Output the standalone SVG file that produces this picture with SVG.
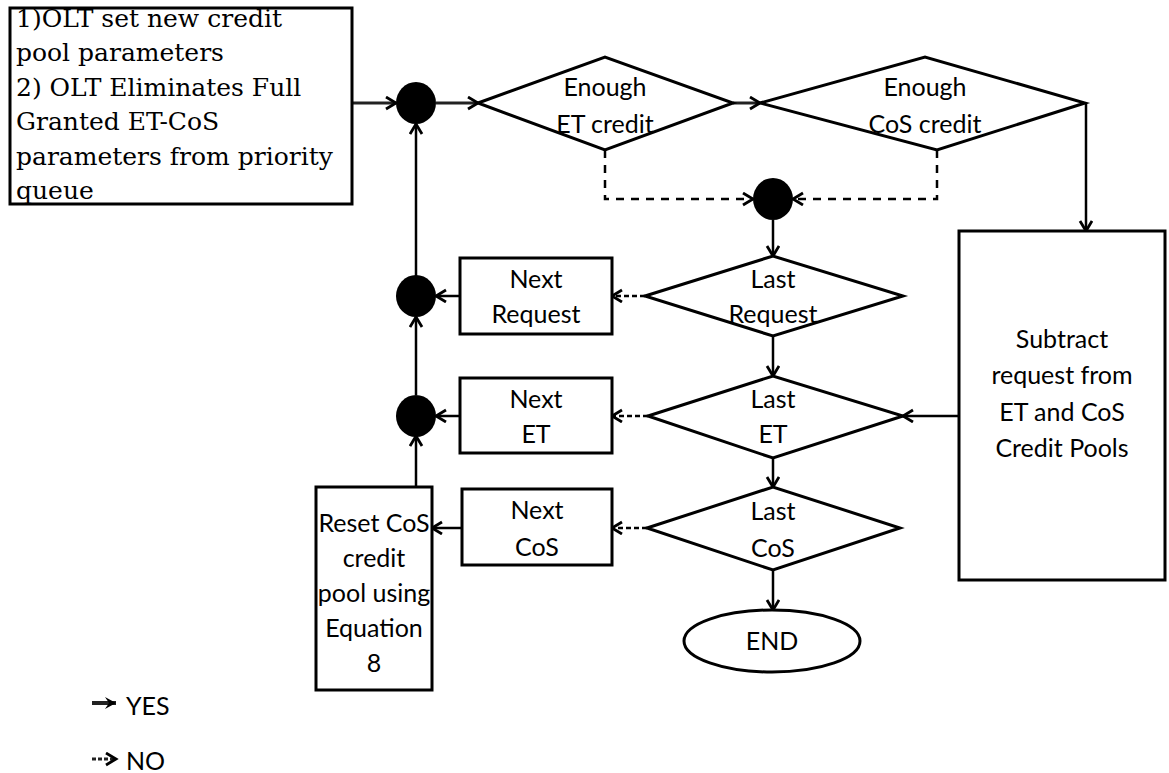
<svg xmlns="http://www.w3.org/2000/svg" width="1169" height="773" viewBox="0 0 1169 773">
<style>
.box{fill:#fff;stroke:#000;stroke-width:3}
.dot{fill:#000}
.t{font-family:Lato,"Open Sans",sans-serif;font-size:25px;fill:#000;text-anchor:middle}
.l{font-family:Lato,"Open Sans",sans-serif;font-size:25px;fill:#000}
.s{font-family:"DejaVu Serif",serif;font-size:25px;fill:#000}
.c{fill:none;stroke:#000;stroke-width:2.5;marker-end:url(#ah)}
.y{stroke:#222;stroke-width:3}
.n{stroke-dasharray:8 7}
.ns{stroke-dasharray:5 3}
</style>
<defs>
<marker id="ah" markerUnits="userSpaceOnUse" markerWidth="16" markerHeight="16" refX="12" refY="7" orient="auto"><path d="M2,1 L12,7 L2,13" fill="none" stroke="#000" stroke-width="2.8"/></marker>
<marker id="fh" markerUnits="userSpaceOnUse" markerWidth="16" markerHeight="16" refX="12" refY="7" orient="auto"><path d="M1,1 L12,7 L1,13 L5,7 Z" fill="#000"/></marker>
</defs>
<rect width="1169" height="773" fill="#fff"/>

<g id="connectors">
<path class="c y" d="M352,103 H396"/>
<path class="c y" d="M436,103 H478"/>
<path class="c y" d="M733,103 H760"/>
<path class="c" d="M1086,103 V231"/>
<path class="c n" d="M605,150 V199 H753"/>
<path class="c n" d="M937,150 V199 H793"/>
<path class="c" d="M773,220 V256"/>
<path class="c ns" d="M645,296 H612"/>
<path class="c" d="M460,296 H436"/>
<path class="c" d="M773,336 V376"/>
<path class="c" d="M959,416 H903"/>
<path class="c ns" d="M648,416 H612"/>
<path class="c" d="M460,416 H436"/>
<path class="c" d="M773,458 V487"/>
<path class="c ns" d="M647,528 H612"/>
<path class="c" d="M462,528 H432"/>
<path class="c" d="M773,570 V610"/>
<path class="c" d="M416,487 V436"/>
<path class="c" d="M416,395 V317"/>
<path class="c" d="M416,276 V124"/>
</g>

<g id="start">
<rect class="box" x="10" y="8" width="342" height="196"/>
<text class="s" x="16" y="27">1)OLT set new credit</text>
<text class="s" x="16" y="61">pool parameters</text>
<text class="s" x="16" y="96">2) OLT Eliminates Full</text>
<text class="s" x="16" y="130">Granted ET-CoS</text>
<text class="s" x="16" y="165">parameters from priority</text>
<text class="s" x="16" y="199">queue</text>
</g>

<g id="dot1"><ellipse class="dot" cx="416" cy="103" rx="20" ry="21"/></g>
<g id="dot2"><ellipse class="dot" cx="773" cy="199" rx="20" ry="21"/></g>
<g id="dot3"><ellipse class="dot" cx="416" cy="296" rx="20" ry="21"/></g>
<g id="dot4"><ellipse class="dot" cx="416" cy="416" rx="20" ry="21"/></g>

<g id="enough-et">
<polygon class="box" points="478,103 605,57 733,103 605,150"/>
<text class="t" x="605" y="96">Enough</text>
<text class="t" x="605" y="133">ET credit</text>
</g>

<g id="enough-cos">
<polygon class="box" points="760,103 925,57 1085,103 937,150"/>
<text class="t" x="925" y="96">Enough</text>
<text class="t" x="925" y="133">CoS credit</text>
</g>

<g id="last-request">
<polygon class="box" points="645,296 773,256 903,296 773,336"/>
<text class="t" x="773" y="288">Last</text>
<text class="t" x="773" y="323">Request</text>
</g>

<g id="next-request">
<rect class="box" x="460" y="258" width="152" height="76"/>
<text class="t" x="536" y="288">Next</text>
<text class="t" x="536" y="323">Request</text>
</g>

<g id="last-et">
<polygon class="box" points="648,416 773,376 903,416 773,458"/>
<text class="t" x="773" y="408">Last</text>
<text class="t" x="773" y="443">ET</text>
</g>

<g id="next-et">
<rect class="box" x="460" y="378" width="152" height="75"/>
<text class="t" x="536" y="408">Next</text>
<text class="t" x="536" y="443">ET</text>
</g>

<g id="last-cos">
<polygon class="box" points="647,528 773,487 900,528 773,570"/>
<text class="t" x="773" y="520">Last</text>
<text class="t" x="773" y="557">CoS</text>
</g>

<g id="next-cos">
<rect class="box" x="462" y="489" width="150" height="76"/>
<text class="t" x="537" y="519">Next</text>
<text class="t" x="537" y="556">CoS</text>
</g>

<g id="reset-cos">
<rect class="box" x="316" y="487" width="116" height="203"/>
<text class="t" x="374" y="532">Reset CoS</text>
<text class="t" x="374" y="567">credit</text>
<text class="t" x="374" y="602">pool using</text>
<text class="t" x="374" y="637">Equation</text>
<text class="t" x="374" y="672">8</text>
</g>

<g id="subtract">
<rect class="box" x="959" y="231" width="206" height="349"/>
<text class="t" x="1062" y="348">Subtract</text>
<text class="t" x="1062" y="384">request from</text>
<text class="t" x="1062" y="421">ET and CoS</text>
<text class="t" x="1062" y="457">Credit Pools</text>
</g>

<g id="end">
<ellipse class="box" cx="772" cy="641" rx="88" ry="31"/>
<text class="t" x="772" y="650">END</text>
</g>

<g id="legend">
<path d="M92,703 H116" stroke="#222" stroke-width="4" fill="none" marker-end="url(#fh)"/>
<text class="l" x="126" y="715">YES</text>
<path d="M92,759 H116" stroke="#222" stroke-width="3" stroke-dasharray="4 2" fill="none" marker-end="url(#ah)"/>
<text class="l" x="126" y="770">NO</text>
</g>
</svg>
